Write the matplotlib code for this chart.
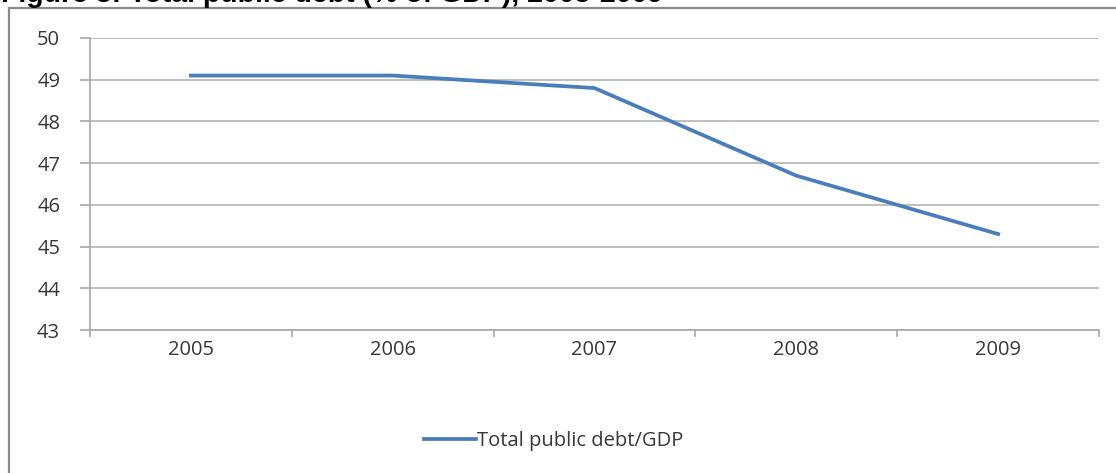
import matplotlib.pyplot as plt
from matplotlib.patches import Rectangle

years = ['2005', '2006', '2007', '2008', '2009']
debt = [49.1, 49.1, 48.8, 46.7, 45.3]
y_ticks = [43, 44, 45, 46, 47, 48, 49, 50]

plt.rcParams['font.family'] = ['Open Sans', 'DejaVu Sans']

fig = plt.figure(figsize=(11.16, 4.73), dpi=100)
W, H = 1116, 473

# outer frame of the chart object
frame = Rectangle((9 / W, -0.1), 1.2, (H - 8) / H + 0.1, transform=fig.transFigure,
                  facecolor='white', edgecolor='#8a8a8a', linewidth=1.6,
                  zorder=-5)
fig.patches.append(frame)

# title, cut off at the top of the picture as in the source
fig.text(1 / W, 1 - 1.5 / H, 'Figure 3: Total public debt (% of GDP), 2005-2009',
         fontsize=20.5, fontweight='bold', family='Liberation Sans',
         ha='left', va='baseline', color='black')

ax = fig.add_axes([90 / W, 1 - 330 / H, (1099 - 90) / W, (330 - 38) / H])
ax.set_facecolor('none')

x = list(range(len(years)))
ax.plot(x, debt, color='#4a7ebb', linewidth=2.7, solid_joinstyle='round',
        label='Total public debt/GDP', zorder=3)

ax.set_xlim(-0.5, len(years) - 0.5)
ax.set_ylim(43, 50)
ax.set_yticks(y_ticks)
ax.set_xticks(x)
ax.set_xticklabels(years)
ax.set_xticks([i - 0.5 for i in range(len(years) + 1)], minor=True)

ax.grid(axis='y', color='#b4b4b4', linewidth=1.2)
ax.set_axisbelow(True)
for s in ['top', 'right']:
    ax.spines[s].set_visible(False)
for s in ['left', 'bottom']:
    ax.spines[s].set_color('#a8a8a8')
    ax.spines[s].set_linewidth(1.2)

ax.tick_params(axis='y', length=7.5, color='#a8a8a8', width=1.2,
               labelsize=14.5, labelcolor='#383838', pad=14)
ax.tick_params(axis='x', which='major', length=0, labelsize=14.5,
               labelcolor='#383838', pad=7)
ax.tick_params(axis='x', which='minor', length=5, color='#a8a8a8', width=1.2)

fig.legend(loc='center', bbox_to_anchor=(554 / W, 1 - 441 / H), frameon=False,
           fontsize=14.5, labelcolor='#383838', handlelength=2.6,
           handletextpad=0.05)

fig.savefig('out.png', dpi=100)
